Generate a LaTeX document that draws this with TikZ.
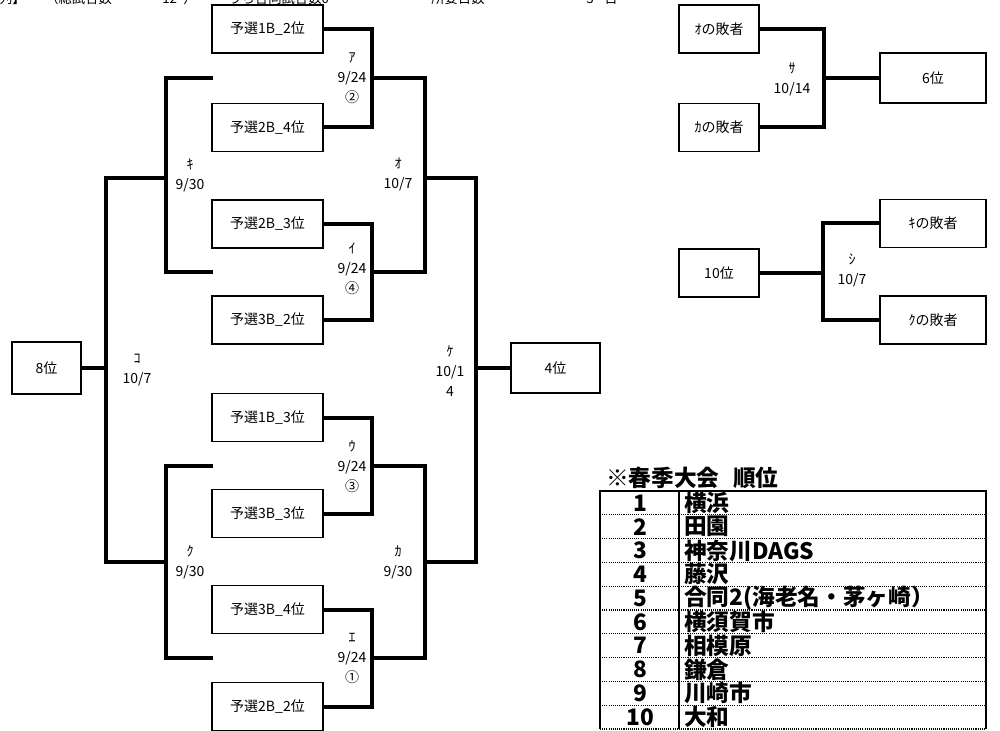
\documentclass[tikz,border=0pt]{standalone}
\usepackage{fontspec}
\setmainfont{Noto Sans CJK JP}
\usetikzlibrary{positioning}

\begin{document}
\begin{tikzpicture}[x=0.75pt, y=-0.75pt,
            team/.style={rectangle, draw=black, line width=1.2pt, inner sep=0pt,
            minimum width=83pt, minimum height=36pt, font=\fontsize{10.5}{12}\selectfont},
            loser/.style={team, minimum width=60pt},
            final/.style={team, minimum width=79.5pt, minimum height=37.5pt},
            game/.style={align=center, inner sep=0pt, font=\fontsize{10.5}{15}\selectfont},
            wire/.style={draw=black, line width=3pt},
            head/.style={anchor=base west, inner sep=0pt, font=\fontsize{10}{12}\selectfont},
            rule/.style={draw=black, line width=1.3pt},
            dots/.style={draw=black, line width=1pt, dash pattern=on 0.8pt off 0.8pt},
            rankno/.style={inner sep=0pt, font=\fontsize{17}{18}\selectfont\bfseries},
            club/.style={anchor=west, inner sep=0pt, font=\fontsize{17}{18}\selectfont\bfseries}]
            \useasboundingbox (0,0) rectangle (1000,731);

            % header line (cut off at the top)
            \node (hd1) [head, anchor=base east] at (26,4) {【組合せ配列】};
            \node (hd2) [head] at (45,4) {（総試合数};
            \node (hd3) [head] at (162,4) {12};
            \node (hd4) [head] at (183,4) {）};
            \node (hd5) [head] at (228,4) {うち合同試合数0};
            \node (hd6) [head] at (431,4) {所要日数};
            \node (hd7) [head] at (586,4) {3};
            \node (hd8) [head] at (604,4) {日};

            % qualifying teams
            \node (q1) [team] at (267.5,29) {予選1B\_2位};
            \node (q2) [team] at (267.5,127.5) {予選2B\_4位};
            \node (q3) [team] at (267.5,224) {予選2B\_3位};
            \node (q4) [team] at (267.5,320) {予選3B\_2位};
            \node (q5) [team] at (267.5,417.5) {予選1B\_3位};
            \node (q6) [team] at (267.5,513.5) {予選3B\_3位};
            \node (q7) [team] at (267.5,609.5) {予選3B\_4位};
            \node (q8) [team] at (267.5,706.5) {予選2B\_2位};
            \node (r8) [team, minimum width=52pt, minimum height=39pt] at (46.5,368) {8位};
            \node (r4) [team, minimum width=67pt, minimum height=37.5pt] at (555.5,368) {4位};

            % junctions
            \coordinate (ja) at (372,78.5);
            \coordinate (ji) at (372,272);
            \coordinate (ju) at (372,465.5);
            \coordinate (je) at (372,658);
            \coordinate (jo) at (425,178);
            \coordinate (jka) at (425,562);
            \coordinate (jke) at (476,368);
            \coordinate (jki) at (166,178);
            \coordinate (jku) at (166,562);
            \coordinate (jko) at (106,368);
            \coordinate (ki1) at (213,78.5);
            \coordinate (ki2) at (213,272);
            \coordinate (ku1) at (213,465.5);
            \coordinate (ku2) at (213,658);

            \draw [wire] (q1.east) -| (ja) |- (q2.east);
            \draw [wire] (q3.east) -| (ji) |- (q4.east);
            \draw [wire] (q5.east) -| (ju) |- (q6.east);
            \draw [wire] (q7.east) -| (je) |- (q8.east);
            \draw [wire] (ja) -| (jo) |- (ji);
            \draw [wire] (ju) -| (jka) |- (je);
            \draw [wire] (jo) -| (jke) |- (jka);
            \draw [wire] (jke) -- (r4.west);
            \draw [wire] (ki1) -| (jki) |- (ki2);
            \draw [wire] (ku1) -| (jku) |- (ku2);
            \draw [wire] (jki) -| (jko) |- (jku);
            \draw [wire] (r8.east) -- (jko);

            % match labels
            \node (ga) [game] at (352,78) {ｱ\\9/24\\②};
            \node (gi) [game] at (352,269) {ｲ\\9/24\\④};
            \node (gu) [game] at (352,467) {ｳ\\9/24\\③};
            \node (ge) [game] at (352,658) {ｴ\\9/24\\①};
            \node (gki) [game] at (190,175) {ｷ\\9/30};
            \node (gku) [game] at (190,562) {ｸ\\9/30};
            \node (go) [game] at (398,174) {ｵ\\10/7};
            \node (gka) [game] at (398,562) {ｶ\\9/30};
            \node (gko) [game] at (137,370) {ｺ\\10/7};
            \node (gke) [game] at (450,371) {ｹ\\10/1\\4};

            % placing games
            \node (lo) [loser] at (719,29) {ｵの敗者};
            \node (lka) [loser] at (719,127.5) {ｶの敗者};
            \node (r6) [final] at (933,78) {6位};
            \node (r10) [loser] at (719,273) {10位};
            \node (lki) [final, minimum height=36pt] at (933,223.5) {ｷの敗者};
            \node (lku) [final, minimum height=36pt] at (933,320) {ｸの敗者};
            \coordinate (jsa) at (824,78);
            \coordinate (jshi) at (823,273);
            \draw [wire] (lo.east) -| (jsa) |- (lka.east);
            \draw [wire] (jsa) -- (r6.west);
            \draw [wire] (lki.west) -| (jshi) |- (lku.west);
            \draw [wire] (r10.east) -- (jshi);
            \node (gsa) [game] at (792,79) {ｻ\\10/14};
            \node (gshi) [game] at (852,270) {ｼ\\10/7};

            % spring ranking table
            \node (ttl) [club] at (606,478) {※春季大会\hspace{0.6em}順位};
            \draw [rule] (600,729) -- (600,491) -- (986,491) -- (986,729);
            \draw [rule] (679,491) -- (679,729);
            \draw [dots] (600,514.8) -- (986,514.8);
            \draw [dots] (600,538.6) -- (986,538.6);
            \draw [dots] (600,562.4) -- (986,562.4);
            \draw [dots] (600,586.2) -- (986,586.2);
            \draw [dots] (600,610) -- (986,610);
            \draw [dots] (600,633.8) -- (986,633.8);
            \draw [dots] (600,657.6) -- (986,657.6);
            \draw [dots] (600,681.4) -- (986,681.4);
            \draw [dots] (600,705.2) -- (986,705.2);
            \draw [dots] (600,729) -- (986,729);
            \node (n1) [rankno] at (640,503) {1};
            \node (c1) [club] at (684,503) {横浜};
            \node (n2) [rankno] at (640,526.7) {2};
            \node (c2) [club] at (684,526.7) {田園};
            \node (n3) [rankno] at (640,550.5) {3};
            \node (c3) [club] at (684,550.5) {神奈川DAGS};
            \node (n4) [rankno] at (640,574.3) {4};
            \node (c4) [club] at (684,574.3) {藤沢};
            \node (n5) [rankno] at (640,598.1) {5};
            \node (c5) [club] at (684,598.1) {合同2(海老名・茅ヶ崎）};
            \node (n6) [rankno] at (640,621.9) {6};
            \node (c6) [club] at (684,621.9) {横須賀市};
            \node (n7) [rankno] at (640,645.7) {7};
            \node (c7) [club] at (684,645.7) {相模原};
            \node (n8) [rankno] at (640,669.5) {8};
            \node (c8) [club] at (684,669.5) {鎌倉};
            \node (n9) [rankno] at (640,693.3) {9};
            \node (c9) [club] at (684,693.3) {川崎市};
            \node (n10) [rankno] at (640,717.1) {10};
            \node (c10) [club] at (684,717.1) {大和};
        \end{tikzpicture}
\end{document}
